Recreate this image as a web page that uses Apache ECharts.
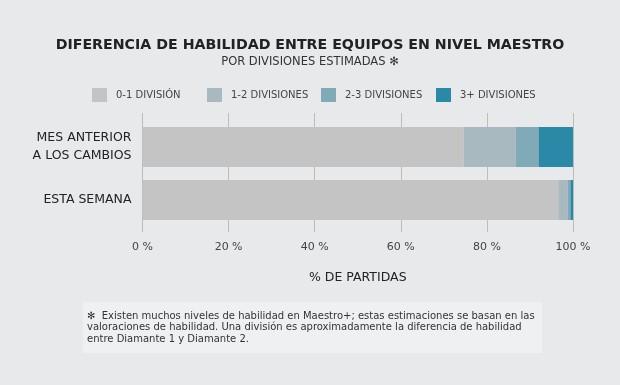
<!DOCTYPE html>
<html><head><meta charset="utf-8">
<script src="https://cdn.jsdelivr.net/npm/echarts@6/dist/echarts.min.js"></script>
<style>html,body{margin:0;padding:0;background:#e8e9ea}#c{width:620px;height:385px}</style>
</head><body><div id="c"></div>
<script>
const categories = ['MES ANTERIOR\nA LOS CAMBIOS', 'ESTA SEMANA'];
const seriesNames = ['0-1 DIVISIÓN', '1-2 DIVISIONES', '2-3 DIVISIONES', '3+ DIVISIONES'];
const div01 = [74.6, 96.6];
const div12 = [12.1, 2.2];
const div23 = [5.3, 0.6];
const div3p = [8.0, 0.6];
const xTicks = [0, 20, 40, 60, 80, 100];
const colors = ['#c4c4c4', '#a8b9c0', '#81aab8', '#2a89a6'];
const FONT = '"DejaVu Sans", sans-serif';
const values = [div01, div12, div23, div3p];
const legendX = [92, 207, 321, 436];

const chart = echarts.init(document.getElementById('c'), null, {renderer: 'canvas'});
const option = {
  backgroundColor: '#e8e9ea',
  textStyle: {fontFamily: FONT},
  title: [{
    text: 'DIFERENCIA DE HABILIDAD ENTRE EQUIPOS EN NIVEL MAESTRO',
    left: 'center', top: 33,
    textStyle: {fontSize: 14.2, fontWeight: 'bold', color: '#222', fontFamily: FONT}
  }, {
    text: 'POR DIVISIONES ESTIMADAS ✻',
    left: 'center', top: 51,
    textStyle: {fontSize: 11.5, fontWeight: 'normal', color: '#333', fontFamily: FONT}
  }],
  legend: seriesNames.map((n, i) => ({
    data: [n], left: legendX[i], top: 88, padding: 0, itemWidth: 15, itemHeight: 14, itemGap: 0,
    icon: 'rect', selectedMode: false,
    textStyle: {fontSize: 10, color: '#444', padding: [0, 0, 0, 4], fontFamily: FONT}
  })),
  grid: [
    {left: 142.5, right: 47, top: 120.5, height: 106},
    {left: 142.5, right: 47, top: 113, height: 119}
  ],
  xAxis: [{
    gridIndex: 0, type: 'value', min: 0, max: 100, interval: 20,
    axisLine: {show: false}, axisTick: {show: false}, splitLine: {show: false},
    axisLabel: {show: false}
  }, {
    gridIndex: 1, type: 'value', min: 0, max: 100, interval: 20,
    axisLine: {show: false}, axisTick: {show: false},
    splitLine: {show: true, lineStyle: {color: '#bcbcbc', width: 1}},
    axisLabel: {show: true, margin: 10, fontSize: 11, color: '#444', fontFamily: FONT,
      formatter: v => xTicks.includes(v) ? v + ' %' : ''},
    name: '% DE PARTIDAS', nameLocation: 'middle', nameGap: 39,
    nameTextStyle: {fontSize: 12.5, color: '#222', fontFamily: FONT}
  }],
  yAxis: [{
    gridIndex: 0, type: 'category', data: categories, inverse: true,
    axisLine: {show: false}, axisTick: {show: false},
    axisLabel: {fontSize: 12.5, color: '#222', margin: 11, lineHeight: 18, align: 'right', fontFamily: FONT}
  }, {
    gridIndex: 1, type: 'value', show: false
  }],
  series: seriesNames.map((n, i) => ({
    name: n, type: 'bar', stack: 'total', xAxisIndex: 0, yAxisIndex: 0,
    barWidth: 40, itemStyle: {color: colors[i]}, data: values[i], silent: true
  })),
  graphic: [{
    type: 'rect', left: 83, top: 302, shape: {width: 459, height: 51},
    style: {fill: '#eff0f1'}, z: -1
  }, {
    type: 'text', left: 87, top: 310.5,
    style: {
      text: '✻  Existen muchos niveles de habilidad en Maestro+; estas estimaciones se basan en las\nvaloraciones de habilidad. Una división es aproximadamente la diferencia de habilidad\nentre Diamante 1 y Diamante 2.',
      fontSize: 10, lineHeight: 11.5, fill: '#333', fontFamily: FONT
    }
  }]
};
chart.setOption(option);
</script></body></html>
